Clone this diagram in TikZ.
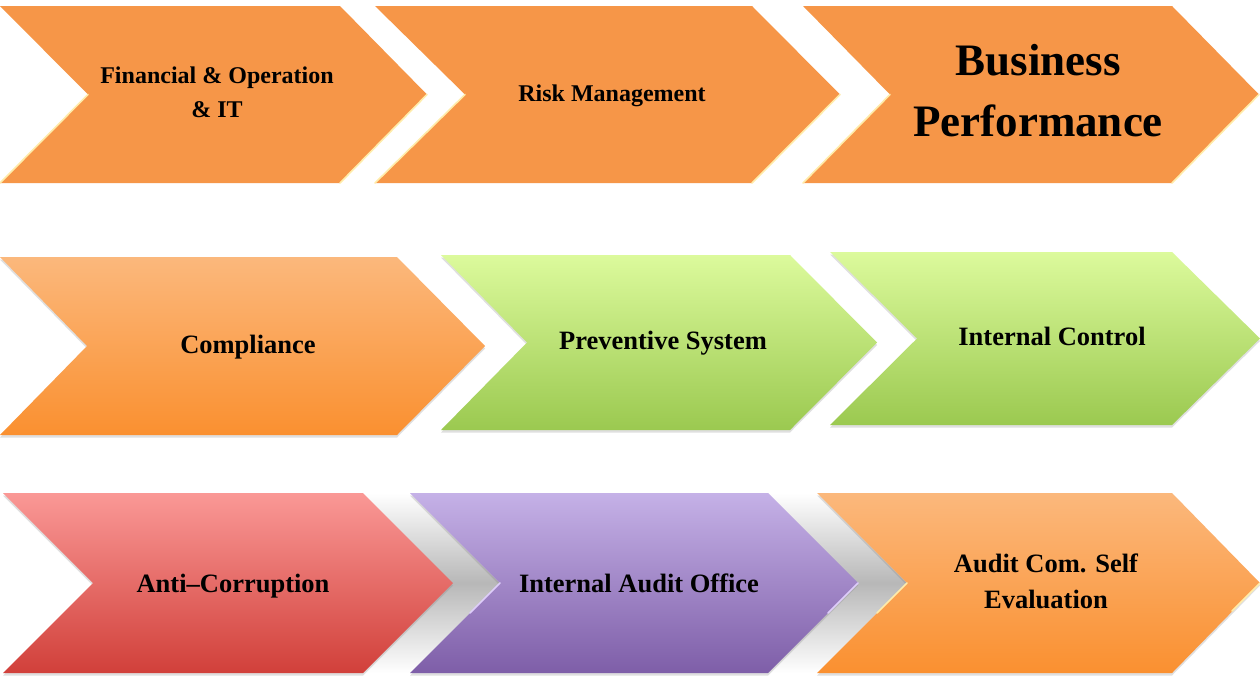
\documentclass[tikz,border=0pt]{standalone}
\usepackage{fontspec}
\setmainfont{Liberation Serif}
\usetikzlibrary{shadows}
\definecolor{orflat}{RGB}{246,150,72}
\definecolor{ortop}{RGB}{251,184,124}
\definecolor{orbot}{RGB}{250,144,48}
\definecolor{grtop}{RGB}{220,250,156}
\definecolor{grbot}{RGB}{155,201,80}
\definecolor{rdtop}{RGB}{250,152,150}
\definecolor{rdbot}{RGB}{209,64,58}
\definecolor{putop}{RGB}{197,177,231}
\definecolor{pubot}{RGB}{126,94,168}
\definecolor{hlyel}{RGB}{255,236,170}
\definecolor{hlpur}{RGB}{222,205,250}
\newcommand\chevshape[7]{%
  \path[#7] (#1,#3) -- (#2,#3) -- ({#2+#5},{(#3+#4)/2}) -- (#2,#4) -- (#1,#4) -- ({#1+#6},{(#3+#4)/2}) -- cycle;}
\tikzset{
  lbl/.style={inner sep=0pt, text=black, align=center},
  small/.style={font=\fontsize{24}{34}\selectfont\bfseries},
  mid/.style={font=\fontsize{26.5}{36}\selectfont\bfseries},
  big/.style={font=\fontsize{45}{61}\selectfont\bfseries},
  flatbox/.style={fill=orflat},
  shad/.style={drop shadow={opacity=0.25, shadow xshift=0pt, shadow yshift=-2.5pt}},
  orbox/.style={shad, top color=ortop, bottom color=orbot},
  grbox/.style={shad, top color=grtop, bottom color=grbot},
  rdbox/.style={shad, top color=rdtop, bottom color=rdbot},
  pubox/.style={shad, top color=putop, bottom color=pubot},
  hl/.style={line width=1.6pt, line cap=round},
  gshadow/.style={top color=white, bottom color=white, middle color=black!28}
}
\begin{document}
\begin{tikzpicture}[x=1pt,y=-1pt]
\useasboundingbox[fill=white] (0,0) rectangle (1260,678);
% ---------- row 1 ----------
\chevshape{0}{340}{6}{183}{87}{88}{flatbox}
\chevshape{375}{752}{6}{183}{88}{90}{flatbox}
\chevshape{803}{1172}{6}{183}{87}{87}{flatbox}
\draw[hl, hlyel] (88,94.5) -- (0,183);
\draw[hl, hlyel] (427,94.5) -- (340,183);
\draw[hl, hlyel] (465,94.5) -- (375,183);
\draw[hl, hlyel] (840,94.5) -- (752,183);
\draw[hl, hlyel] (890,94.5) -- (803,183);
\draw[hl, hlyel] (1259,94.5) -- (1172,183);
% ---------- row 2 ----------
\chevshape{0}{397}{257}{435}{88}{87}{orbox}
\chevshape{441}{790}{255}{430}{87}{86}{grbox}
\chevshape{830}{1172}{252}{425}{88}{87}{grbox}
% ---------- row 3 ----------
\chevshape{352}{410}{493}{673}{90}{90}{gshadow}
\chevshape{760}{817}{493}{673}{90}{90}{gshadow}
\chevshape{3}{363}{493}{673}{90}{90}{rdbox}
\chevshape{410}{768}{493}{673}{90}{90}{pubox}
\chevshape{817}{1172}{493}{673}{88}{90}{orbox}
\draw[hl, hlpur] (500,583) -- (470,613);
\draw[hl, hlpur] (858,583) -- (828,613);
\draw[hl, hlyel] (907,583) -- (877,613);
\draw[hl, hlyel] (1260,583) -- (1232,611);
% ---------- labels ----------
\node[lbl, small] (fin) at (217,92) {Financial \& Operation\\\& IT};
\node[lbl, small, anchor=base] (risk) at (612,101) {Risk Management};
\node[lbl, big] (biz) at (1038,91) {Business\\Performance};
\node[lbl, mid, anchor=base] (comp) at (248,353) {Compliance};
\node[lbl, mid, anchor=base] (prev) at (663,349) {Preventive System};
\node[lbl, mid, anchor=base] (ic) at (1052,345) {Internal Control};
\node[lbl, mid, anchor=base] (anti) at (233,592) {Anti–Corruption};
\node[lbl, mid, anchor=base] (iao) at (639,592) {Internal Audit Office};
\node[lbl, mid] (acse) at (1046,581) {Audit Com. Self\\Evaluation};
\end{tikzpicture}
\end{document}
